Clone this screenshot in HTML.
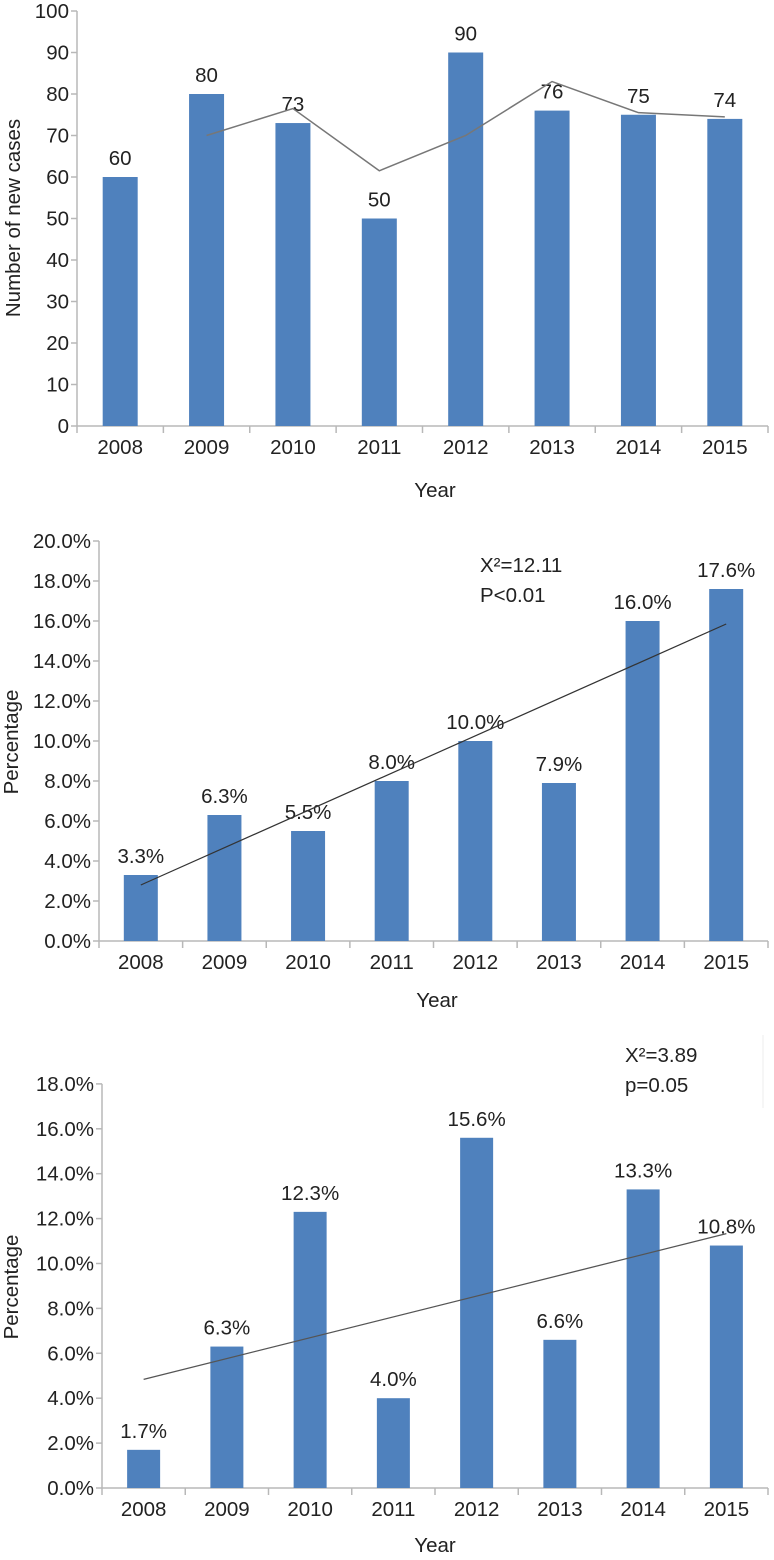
<!DOCTYPE html>
<html><head><meta charset="utf-8"><style>
body{margin:0;background:#fff}
svg{display:block;font-family:"Liberation Sans",Arial,sans-serif}
</style></head><body>
<svg id="s" width="774" height="1560"></svg>
<script>
const years=["2008","2009","2010","2011","2012","2013","2014","2015"];
const cases=[60,80,73,50,90,76,75,74];
const movingAvg=[null,70,76.5,61.5,70,83,75.5,74.5];
const pct2=[3.3,6.3,5.5,8.0,10.0,7.9,16.0,17.6];
const trend2=[2.8,15.85];
const pct3=[1.7,6.3,12.3,4.0,15.6,6.6,13.3,10.8];
const trend3=[4.84,11.33];
const ticks1=[0,10,20,30,40,50,60,70,80,90,100];
const ticks2=[0,2,4,6,8,10,12,14,16,18,20];
const ticks3=[0,2,4,6,8,10,12,14,16,18];
const FS=20.5;

const svg=document.getElementById('s');
const NS='http://www.w3.org/2000/svg';
function el(tag,attrs,text){const e=document.createElementNS(NS,tag);for(const k in attrs)e.setAttribute(k,attrs[k]);if(text!==undefined)e.textContent=text;svg.appendChild(e);return e;}

function chart(o){
  const {x0,x1,y0,ppu,ticks,vals,fmt,tfmt,barW,name}=o;
  const cw=(x1-x0)/years.length;
  const X=i=>x0+cw*(i+0.5);
  const Y=v=>y0-v*ppu;
  let a=el('line',{x1:x0,y1:Y(ticks[ticks.length-1]),x2:x0,y2:y0,stroke:'#b8b8b8','stroke-width':1.5});
  
  
  ticks.forEach(t=>{
    let l=el('line',{x1:x0-6,y1:Y(t),x2:x0,y2:Y(t),stroke:'#b8b8b8','stroke-width':1.5});
    
    
    let tx=el('text',{x:x0-8,y:Y(t)+7,'text-anchor':'end','font-size':FS,fill:'#222'},tfmt(t));
    
    
  });
  let xa=el('line',{x1:x0,y1:y0,x2:x1,y2:y0,stroke:'#b8b8b8','stroke-width':1.5});
  
  
  for(let i=0;i<=years.length;i++){
    let l=el('line',{x1:x0+cw*i,y1:y0,x2:x0+cw*i,y2:y0+7,stroke:'#b8b8b8','stroke-width':1.5});
    
    
  }
  years.forEach((yr,i)=>{
    let t=el('text',{x:X(i),y:y0+28,'text-anchor':'middle','font-size':FS,fill:'#222'},yr);
    
    
  });
  vals.forEach((v,i)=>{
    let r=el('rect',{x:X(i)-barW/2,y:Y(v),width:barW,height:v*ppu,fill:'#4f81bd'});
    
    
    let t=el('text',{x:X(i),y:Y(v)-12,'text-anchor':'middle','font-size':FS,fill:'#222'},fmt(v));
    
    
  });
  return {X,Y};
}

const c1=chart({x0:77,x1:768,y0:426,ppu:4.15,ticks:ticks1,vals:cases,fmt:v=>String(v),tfmt:t=>String(t),barW:35,name:'cases-chart'});
let pts=[];movingAvg.forEach((v,i)=>{if(v!==null)pts.push(c1.X(i)+','+c1.Y(v));});
let ma=el('polyline',{points:pts.join(' '),fill:'none',stroke:'#777','stroke-width':1.5});


let t1=el('text',{x:435,y:497,'text-anchor':'middle','font-size':FS,fill:'#222'},'Year');


let y1=el('text',{x:0,y:0,'text-anchor':'middle','font-size':FS,fill:'#222',transform:'translate(20,218) rotate(-90)'},'Number of new cases');



const c2=chart({x0:99,x1:768,y0:941,ppu:20,ticks:ticks2,vals:pct2,fmt:v=>v.toFixed(1)+'%',tfmt:t=>t.toFixed(1)+'%',barW:34,name:'pct-chart-1'});
let tl2=el('line',{x1:c2.X(0),y1:c2.Y(trend2[0]),x2:c2.X(7),y2:c2.Y(trend2[1]),stroke:'#333','stroke-width':1.2});


let s2a=el('text',{x:480,y:572,'font-size':FS,fill:'#222'},'X²=12.11');


let s2b=el('text',{x:480,y:602,'font-size':FS,fill:'#222'},'P<0.01');


let t2=el('text',{x:437,y:1007,'text-anchor':'middle','font-size':FS,fill:'#222'},'Year');


let y2=el('text',{x:0,y:0,'text-anchor':'middle','font-size':FS,fill:'#222',transform:'translate(18,742) rotate(-90)'},'Percentage');



const c3=chart({x0:102,x1:768,y0:1488,ppu:22.45,ticks:ticks3,vals:pct3,fmt:v=>v.toFixed(1)+'%',tfmt:t=>t.toFixed(1)+'%',barW:33,name:'pct-chart-2'});
let tl3=el('line',{x1:c3.X(0),y1:c3.Y(trend3[0]),x2:c3.X(7),y2:c3.Y(trend3[1]),stroke:'#555','stroke-width':1.3});


let bx=el('line',{x1:763,y1:1035,x2:763,y2:1108,stroke:'#eee','stroke-width':1});


let s3a=el('text',{x:625,y:1062,'font-size':FS,fill:'#222'},'X²=3.89');


let s3b=el('text',{x:625,y:1092,'font-size':FS,fill:'#222'},'p=0.05');


let t3=el('text',{x:435,y:1552,'text-anchor':'middle','font-size':FS,fill:'#222'},'Year');


let y3=el('text',{x:0,y:0,'text-anchor':'middle','font-size':FS,fill:'#222',transform:'translate(18,1287) rotate(-90)'},'Percentage');


</script>
</body></html>
